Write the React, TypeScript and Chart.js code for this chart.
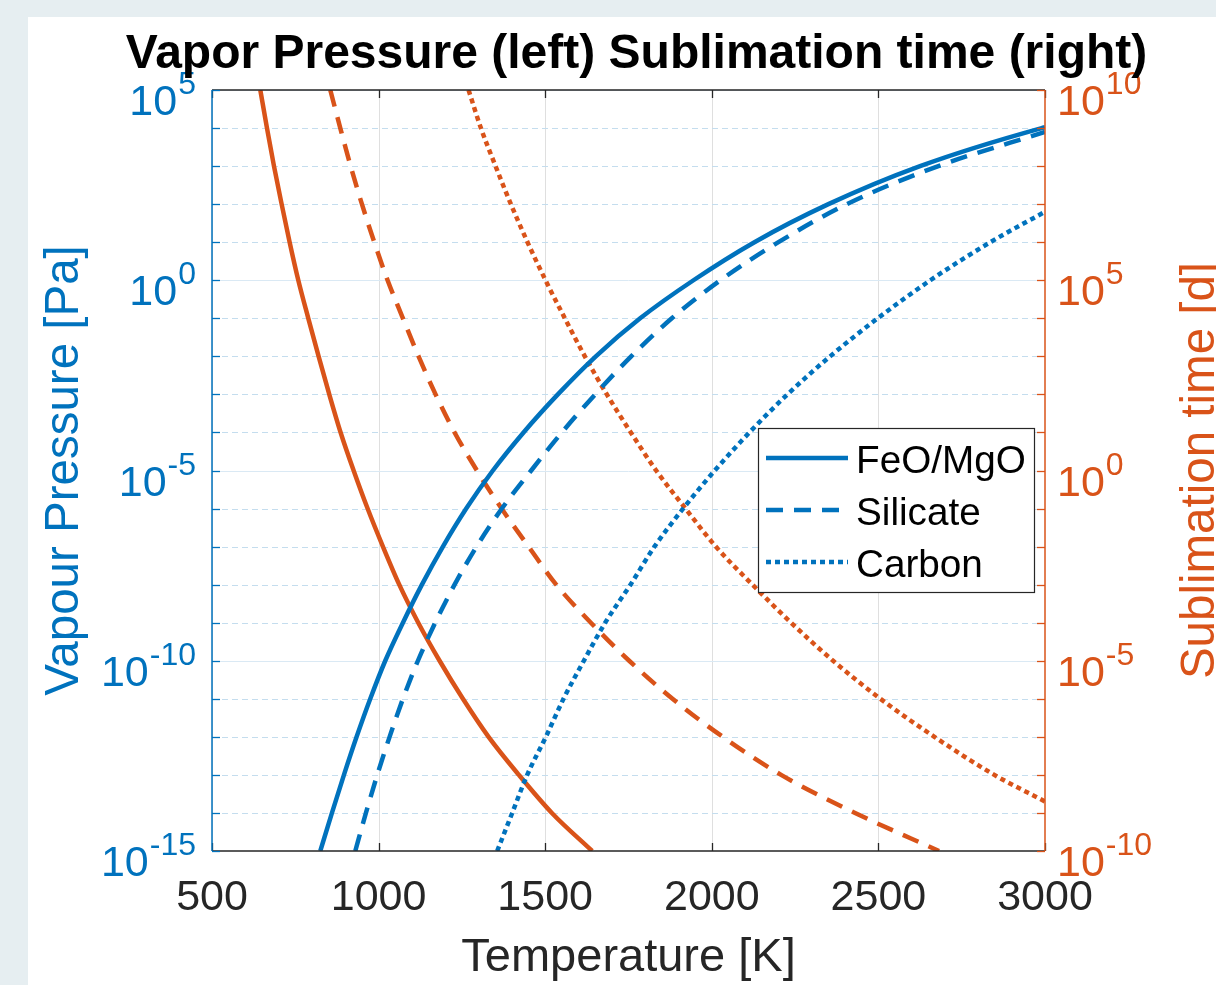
import { useEffect, useRef } from "react";
import { Chart, registerables } from "chart.js";

Chart.register(...registerables);

const BLUE = "#0072BD";
const ORANGE = "#D95319";
const INK = "#262626";
const FONT = '"Liberation Sans", Arial, Helvetica, sans-serif';

// Temperature axis ticks [K]
const tempTicks = [500, 1000, 1500, 2000, 2500, 3000];
// Decades that carry a label on each log axis
const pressureLabelExps = [-15, -10, -5, 0, 5];
const timeLabelExps = [-10, -5, 0, 5, 10];

// Vapour pressure [Pa] vs temperature [K]
const feoTempP = [825, 860, 896, 934, 975, 1020, 1073, 1130, 1193, 1263, 1343, 1435, 1538, 1652, 1785, 1945, 2128, 2350, 2625, 2990, 3000];
const feoPressure = [1e-15, 1e-14, 1e-13, 1e-12, 1e-11, 1e-10, 1e-9, 1e-8, 1e-7, 1e-6, 1e-5, 1e-4, 1e-3, 1e-2, 1e-1, 1, 10, 100, 1e3, 1e4, 1.05e4];

const silTempP = [930, 962, 996, 1033, 1073, 1118, 1170, 1228, 1294, 1370, 1458, 1550, 1650, 1758, 1880, 2026, 2200, 2405, 2680, 3000];
const silPressure = [1e-15, 1e-14, 1e-13, 1e-12, 1e-11, 1e-10, 1e-9, 1e-8, 1e-7, 1e-6, 1e-5, 1e-4, 1e-3, 1e-2, 1e-1, 1, 10, 100, 1e3, 7.9e3];

const carTempP = [1356, 1401, 1446, 1502, 1555, 1616, 1680, 1756, 1828, 1914, 2009, 2113, 2227, 2355, 2498, 2656, 2836, 3000];
const carPressure = [1e-15, 1e-14, 1e-13, 1e-12, 1e-11, 1e-10, 1e-9, 1e-8, 1e-7, 1e-6, 1e-5, 1e-4, 1e-3, 1e-2, 1e-1, 1, 10, 63];

// Sublimation time [d] vs temperature [K]
const feoTempT = [645, 665, 686, 709, 733, 759, 789, 820, 852, 886, 925, 967, 1013, 1062, 1119, 1183, 1253, 1330, 1421, 1520, 1641];
const feoTime = [1e10, 1e9, 1e8, 1e7, 1e6, 1e5, 1e4, 1e3, 100, 10, 1, 1e-1, 1e-2, 1e-3, 1e-4, 1e-5, 1e-6, 1e-7, 1e-8, 1e-9, 1e-10];

const silTempT = [855, 885, 916, 950, 987, 1027, 1073, 1120, 1171, 1228, 1295, 1369, 1450, 1533, 1637, 1752, 1882, 2033, 2208, 2430, 2682];
const silTime = [1e10, 1e9, 1e8, 1e7, 1e6, 1e5, 1e4, 1e3, 100, 10, 1, 1e-1, 1e-2, 1e-3, 1e-4, 1e-5, 1e-6, 1e-7, 1e-8, 1e-9, 1e-10];

const carTempT = [1270, 1307, 1351, 1397, 1447, 1501, 1559, 1619, 1685, 1757, 1833, 1921, 2012, 2122, 2238, 2364, 2506, 2668, 2848, 3000];
const carTime = [1e10, 1e9, 1e8, 1e7, 1e6, 1e5, 1e4, 1e3, 100, 10, 1, 1e-1, 1e-2, 1e-3, 1e-4, 1e-5, 1e-6, 1e-7, 1e-8, 2.0e-9];

const SOLID: number[] = [];
const DASHED = [17, 11];
const DOTTED = [5, 4];
const LINE_W = 4.5;

const toPoints = (xs: number[], ys: number[]) => xs.map((x, i) => ({ x, y: ys[i] }));

function series(label: string, xs: number[], ys: number[], axis: string, color: string, dash: number[]) {
  return {
    label,
    data: toPoints(xs, ys),
    yAxisID: axis,
    borderColor: color,
    backgroundColor: color,
    borderWidth: LINE_W,
    borderDash: dash,
    borderCapStyle: "butt" as const,
    pointRadius: 0,
    fill: false,
    cubicInterpolationMode: "monotone" as const,
  };
}

function drawPower(ctx: CanvasRenderingContext2D, exp: number, x: number, y: number, align: "left" | "right", color: string) {
  const baseFont = `43px ${FONT}`;
  const supFont = `32px ${FONT}`;
  const sup = String(exp);
  ctx.font = baseFont;
  const bw = ctx.measureText("10").width;
  ctx.font = supFont;
  const sw = ctx.measureText(sup).width;
  const start = align === "right" ? x - bw - sw - 1 : x;
  ctx.fillStyle = color;
  ctx.textAlign = "left";
  ctx.textBaseline = "alphabetic";
  ctx.font = baseFont;
  ctx.fillText("10", start, y + 25);
  ctx.font = supFont;
  ctx.fillText(sup, start + bw + 1, y + 4);
}

const decorations = {
  id: "decorations",
  beforeDatasetsDraw(chart: any) {
    const { ctx, chartArea: a, scales } = chart;
    const xs = scales.x;
    const yl = scales.y;
    ctx.save();
    ctx.beginPath();
    ctx.rect(a.left, a.top, a.right - a.left, a.bottom - a.top);
    ctx.clip();
    ctx.lineWidth = 1;
    // vertical grid
    ctx.strokeStyle = "#DFDFDF";
    ctx.setLineDash([]);
    for (const t of tempTicks) {
      const px = Math.round(xs.getPixelForValue(t)) + 0.5;
      ctx.beginPath();
      ctx.moveTo(px, a.top);
      ctx.lineTo(px, a.bottom);
      ctx.stroke();
    }
    // horizontal grid, one line per decade of the pressure axis
    const lo = Math.round(Math.log10(yl.min));
    const hi = Math.round(Math.log10(yl.max));
    for (let e = lo; e <= hi; e++) {
      const py = Math.round(yl.getPixelForValue(Math.pow(10, e))) + 0.5;
      if (pressureLabelExps.includes(e)) {
        ctx.strokeStyle = "#DAE9F4";
        ctx.setLineDash([]);
      } else {
        ctx.strokeStyle = "#C4DDEE";
        ctx.setLineDash([6, 4]);
      }
      ctx.beginPath();
      ctx.moveTo(a.left, py);
      ctx.lineTo(a.right, py);
      ctx.stroke();
    }
    ctx.restore();
  },
  afterDatasetsDraw(chart: any) {
    const { ctx, chartArea: a, scales } = chart;
    const xs = scales.x;
    const yl = scales.y;
    const yr = scales.y2;
    const TICK = 8;
    ctx.save();
    ctx.setLineDash([]);
    ctx.lineWidth = 1.5;

    // box: top and bottom in ink, sides in their axis colours
    ctx.strokeStyle = INK;
    ctx.beginPath();
    ctx.moveTo(a.left, a.top);
    ctx.lineTo(a.right, a.top);
    ctx.moveTo(a.left, a.bottom);
    ctx.lineTo(a.right, a.bottom);
    ctx.stroke();

    // temperature ticks, inward on bottom and top
    ctx.lineWidth = 1.3;
    for (const t of tempTicks) {
      const px = Math.round(xs.getPixelForValue(t)) + 0.5;
      ctx.beginPath();
      ctx.moveTo(px, a.bottom);
      ctx.lineTo(px, a.bottom - TICK);
      ctx.moveTo(px, a.top);
      ctx.lineTo(px, a.top + TICK);
      ctx.stroke();
    }

    // left axis line and decade ticks
    ctx.strokeStyle = BLUE;
    ctx.lineWidth = 1.5;
    ctx.beginPath();
    ctx.moveTo(a.left, a.top);
    ctx.lineTo(a.left, a.bottom);
    ctx.stroke();
    ctx.lineWidth = 1.3;
    const lLo = Math.round(Math.log10(yl.min));
    const lHi = Math.round(Math.log10(yl.max));
    for (let e = lLo; e <= lHi; e++) {
      const py = Math.round(yl.getPixelForValue(Math.pow(10, e))) + 0.5;
      ctx.beginPath();
      ctx.moveTo(a.left, py);
      ctx.lineTo(a.left + TICK, py);
      ctx.stroke();
    }

    // right axis line and decade ticks
    ctx.strokeStyle = ORANGE;
    ctx.lineWidth = 1.5;
    ctx.beginPath();
    ctx.moveTo(a.right, a.top);
    ctx.lineTo(a.right, a.bottom);
    ctx.stroke();
    ctx.lineWidth = 1.3;
    const rLo = Math.round(Math.log10(yr.min));
    const rHi = Math.round(Math.log10(yr.max));
    for (let e = rLo; e <= rHi; e++) {
      const py = Math.round(yr.getPixelForValue(Math.pow(10, e))) + 0.5;
      ctx.beginPath();
      ctx.moveTo(a.right, py);
      ctx.lineTo(a.right - TICK, py);
      ctx.stroke();
    }

    // temperature tick labels
    ctx.fillStyle = INK;
    ctx.font = `43px ${FONT}`;
    ctx.textAlign = "center";
    ctx.textBaseline = "alphabetic";
    for (const t of tempTicks) {
      ctx.fillText(String(t), xs.getPixelForValue(t), a.bottom + 59);
    }
    // x title
    ctx.font = `47px ${FONT}`;
    ctx.fillText("Temperature [K]", (a.left + a.right) / 2, a.bottom + 120);

    // pressure labels (left), right-aligned
    for (const e of pressureLabelExps) {
      drawPower(ctx, e, a.left - 16, yl.getPixelForValue(Math.pow(10, e)), "right", BLUE);
    }
    // time labels (right), left-aligned
    for (const e of timeLabelExps) {
      drawPower(ctx, e, a.right + 12, yr.getPixelForValue(Math.pow(10, e)), "left", ORANGE);
    }

    // rotated axis titles
    const midY = (a.top + a.bottom) / 2;
    ctx.font = `47.5px ${FONT}`;
    ctx.textAlign = "center";
    ctx.textBaseline = "alphabetic";
    ctx.save();
    ctx.translate(a.left - 134, midY);
    ctx.rotate(-Math.PI / 2);
    ctx.fillStyle = BLUE;
    ctx.fillText("Vapour Pressure [Pa]", 0, 0);
    ctx.restore();
    ctx.save();
    ctx.translate(a.right + 169, midY);
    ctx.rotate(-Math.PI / 2);
    ctx.fillStyle = ORANGE;
    ctx.fillText("Sublimation time [d]", 0, 0);
    ctx.restore();

    // title
    ctx.fillStyle = "#000000";
    ctx.font = `bold 48px ${FONT}`;
    ctx.textAlign = "center";
    ctx.fillText("Vapor Pressure (left) Sublimation time (right)", (a.left + a.right) / 2 + 8, a.top - 22);

    // legend for the vapour-pressure series
    const entries = chart.data.datasets.filter((d: any) => d.yAxisID === "y");
    const bw = 276;
    const bh = 164;
    const bx = a.right - 11 - bw;
    const by = a.top + 338;
    ctx.fillStyle = "#FFFFFF";
    ctx.fillRect(bx, by, bw, bh);
    ctx.strokeStyle = INK;
    ctx.lineWidth = 1.2;
    ctx.strokeRect(bx + 0.5, by + 0.5, bw, bh);
    entries.forEach((d: any, i: number) => {
      const ry = by + 30 + i * 52;
      ctx.strokeStyle = d.borderColor;
      ctx.lineWidth = LINE_W;
      ctx.lineCap = "butt";
      ctx.setLineDash(d.borderDash);
      ctx.beginPath();
      ctx.moveTo(bx + 8, ry);
      ctx.lineTo(bx + 90, ry);
      ctx.stroke();
      ctx.setLineDash([]);
      ctx.fillStyle = "#000000";
      ctx.font = `38.7px ${FONT}`;
      ctx.textAlign = "left";
      ctx.textBaseline = "alphabetic";
      ctx.fillText(d.label, bx + 98, ry + 15);
    });
    ctx.restore();
  },
};

export default function App() {
  const ref = useRef<HTMLCanvasElement>(null);

  useEffect(() => {
    const canvas = ref.current;
    if (!canvas) return;
    const chart = new Chart(canvas, {
      type: "line",
      data: {
        datasets: [
          series("FeO/MgO", feoTempP, feoPressure, "y", BLUE, SOLID),
          series("Silicate", silTempP, silPressure, "y", BLUE, DASHED),
          series("Carbon", carTempP, carPressure, "y", BLUE, DOTTED),
          series("FeO/MgO time", feoTempT, feoTime, "y2", ORANGE, SOLID),
          series("Silicate time", silTempT, silTime, "y2", ORANGE, DASHED),
          series("Carbon time", carTempT, carTime, "y2", ORANGE, DOTTED),
        ] as any,
      },
      options: {
        responsive: false,
        maintainAspectRatio: false,
        animation: false,
        events: [],
        layout: { padding: { top: 73, left: 0, right: 0, bottom: 0 } },
        plugins: {
          legend: { display: false },
          title: { display: false },
          tooltip: { enabled: false },
        },
        scales: {
          x: {
            type: "linear",
            position: "bottom",
            min: 500,
            max: 3000,
            ticks: { display: false },
            grid: { display: false },
            border: { display: false },
            afterFit: (s: any) => {
              s.height = 134;
            },
          },
          y: {
            type: "logarithmic",
            position: "left",
            min: 1e-15,
            max: 1e5,
            ticks: { display: false },
            grid: { display: false },
            border: { display: false },
            afterFit: (s: any) => {
              s.width = 184;
            },
          },
          y2: {
            type: "logarithmic",
            position: "right",
            min: 1e-10,
            max: 1e10,
            ticks: { display: false },
            grid: { display: false },
            border: { display: false },
            afterFit: (s: any) => {
              s.width = 171;
            },
          },
        },
      } as any,
      plugins: [decorations],
    });
    return () => chart.destroy();
  }, []);

  return (
    <div style={{ position: "fixed", left: 0, top: 0, width: 1216, height: 985, background: "#E6EEF1", overflow: "hidden" }}>
      <div style={{ position: "absolute", left: 28, top: 17, width: 1188, height: 968, background: "#FFFFFF" }}>
        <canvas ref={ref} width={1188} height={968} style={{ display: "block", width: 1188, height: 968 }} />
      </div>
    </div>
  );
}
